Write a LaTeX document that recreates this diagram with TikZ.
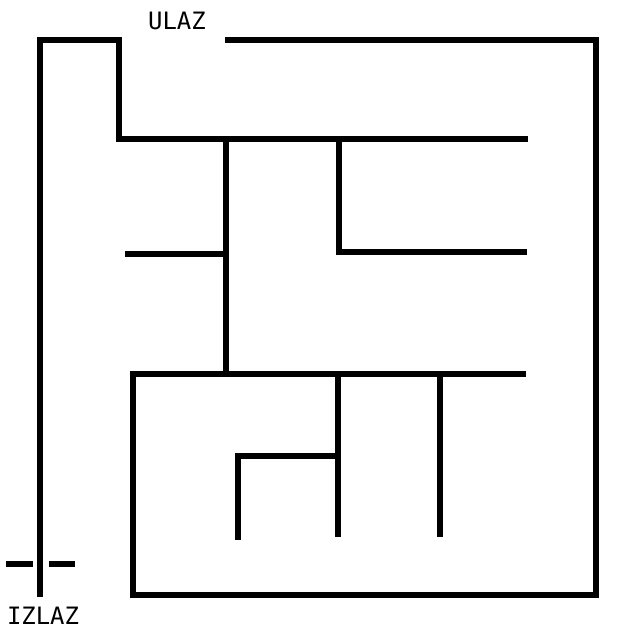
\documentclass[tikz,border=0pt]{standalone}
\usepackage{fontspec}
\newfontfamily\mazefont{DejaVu Sans Mono}
\usetikzlibrary{positioning}

\begin{document}
\begin{tikzpicture}[x=0.025cm, y=-0.025cm, wall/.style={line width=4.2pt, line join=miter}, mazetext/.style={font=\mazefont\fontsize{17}{19}\selectfont, inner sep=0pt}]
    \useasboundingbox (0,0) rectangle (640,640);
    % outer walls
    \draw[wall] (40,597) -- (40,40) -- (119,40) -- (119,139) -- (528,139);
    \draw[wall] (225,40) -- (596,40) -- (596,595) -- (133,595) -- (133,374) -- (526,374);
    % inner walls
    \draw[wall] (226,139) -- (226,374);
    \draw[wall] (125,254) -- (226,254);
    \draw[wall] (339,139) -- (339,252) -- (527,252);
    \draw[wall] (238,540) -- (238,456) -- (338,456);
    \foreach \x/\y in {338/537, 440/537} {
        \draw[wall] (\x,374) -- (\x,\y);
    }
    % exit marks
    \draw[wall] (6,564) -- (33,564);
    \draw[wall] (49,564) -- (75,564);
    % labels
    \node[mazetext] (ulaz) at (177,21) {ULAZ};
    \node[mazetext] (izlaz) at (43,616) {IZLAZ};
\end{tikzpicture}
\end{document}
